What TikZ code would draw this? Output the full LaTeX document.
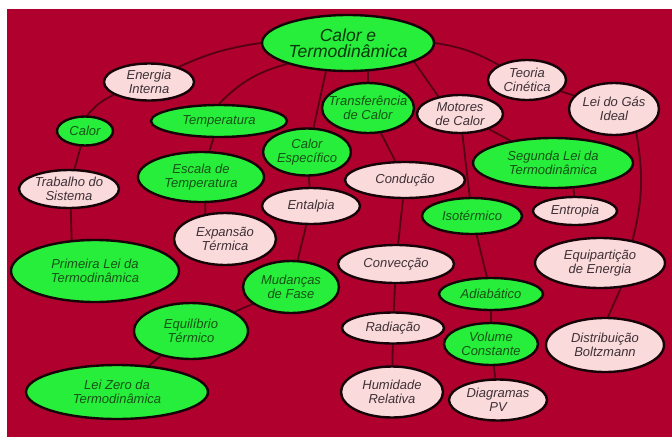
\documentclass[tikz,border=0pt]{standalone}
\usepackage{fontspec}
\setmainfont{Liberation Sans}
\usetikzlibrary{shapes.geometric,backgrounds}
\definecolor{bgred}{RGB}{176,0,46}
\definecolor{ngreen}{RGB}{38,238,58}
\definecolor{npink}{RGB}{250,218,218}
\definecolor{edgec}{RGB}{85,0,20}
\definecolor{gtext}{RGB}{22,82,22}
\definecolor{ptext}{RGB}{62,48,54}
\definecolor{border}{RGB}{22,4,8}
\tikzset{
  base/.style={ellipse, draw=border, line width=2.4pt, inner sep=0pt},
  gn/.style={base, fill=ngreen},
  pk/.style={base, fill=npink},
  gnt/.style={font=\itshape\fontsize{13}{13.5}\selectfont, align=center, text=gtext, inner sep=0pt},
  pkt/.style={font=\itshape\fontsize{13}{13.5}\selectfont, align=center, text=ptext, inner sep=0pt},
  ed/.style={draw=edgec, line width=1.8pt},
}
\newcommand\bub[6]{%
  \node[#1, minimum width=#4pt, minimum height=#5pt] (#2) at (#3) {};
  \node[#1t] (#2t) at (#2.center) {#6};}
\begin{document}
\begin{tikzpicture}[x=1pt,y=-1pt]
\useasboundingbox (0,0) rectangle (672,437);
% nodes
\node[gn, minimum width=172pt, minimum height=56pt] (top) at (348,43) {};
\node[font=\itshape\fontsize{17.5}{16.5}\selectfont, align=center, text={rgb,255:red,10;green,55;blue,10}, inner sep=0pt] (topt) at (top.center) {Calor e\\Termodinâmica};
\bub{pk}{ei}{149,82}{90}{37}{Energia\\Interna}
\bub{gn}{calor}{85,131}{56}{29}{Calor}
\bub{gn}{temp}{219,121}{136}{32}{Temperatura}
\bub{gn}{cesp}{307,152}{88}{47}{Calor\\Específico}
\bub{gn}{esc}{201,177}{126}{50}{Escala de\\Temperatura}
\bub{pk}{trab}{69,189}{100}{38}{Trabalho do\\Sistema}
\bub{pk}{ent}{311,206}{98}{36}{Entalpia}
\bub{pk}{expa}{225,239}{102}{52}{Expansão\\Térmica}
\bub{gn}{prim}{95,271}{168}{62}{Primeira Lei da\\Termodinâmica}
\bub{gn}{mud}{291,287}{96}{52}{Mudanças\\de Fase}
\bub{gn}{equ}{191,331}{114}{56}{Equilíbrio\\Térmico}
\bub{gn}{zero}{117,392}{182}{54}{Lei Zero da\\Termodinâmica}
\bub{gn}{transf}{368,108}{92}{50}{Transferência\\de Calor}
\bub{pk}{mot}{460,114}{86}{38}{Motores\\de Calor}
\bub{pk}{teo}{527,80}{78}{40}{Teoria\\Cinética}
\bub{pk}{gas}{614,109}{90}{52}{Lei do Gás\\Ideal}
\bub{gn}{seg}{553,163}{160}{50}{Segunda Lei da\\Termodinâmica}
\bub{pk}{cond}{405,180}{120}{36}{Condução}
\bub{pk}{entr}{575,211}{84}{28}{Entropia}
\bub{gn}{iso}{472,216}{100}{36}{Isotérmico}
\bub{pk}{conv}{396,264}{116}{38}{Convecção}
\bub{pk}{equi}{600,263}{130}{50}{Equipartição\\de Energia}
\bub{gn}{adia}{491,294}{104}{32}{Adiabático}
\bub{pk}{rad}{393,328}{102}{31}{Radiação}
\bub{gn}{vol}{491,344}{94}{42}{Volume\\Constante}
\bub{pk}{dist}{605,345}{118}{54}{Distribuição\\Boltzmann}
\bub{pk}{hum}{392,392}{102}{51}{Humidade\\Relativa}
\bub{pk}{diag}{498,400}{98}{41}{Diagramas\\PV}
\begin{pgfonlayer}{background}
\fill[bgred] (7,9) rectangle (672,437);
% connectors
\draw[ed] (top.180) to[bend right=8] (ei.27);
\draw[ed] (top.-161) to[bend right=15] (temp.90);
\draw[ed] (top.-128) -- (cesp.75);
\draw[ed] (top.-55) -- (transf.90);
\draw[ed] (top.-16) -- (mot.141);
\draw[ed] (top.0) to[bend left=10] (teo.152);
\draw[ed] (teo) -- (gas);
\draw[ed] (gas.-47) to[bend left=12] (equi.35);
\draw[ed] (equi.-50) -- (dist.84);
\draw[ed] (mot) -- (seg);
\draw[ed] (seg.-51) -- (entr.93);
\draw[ed] (mot) -- (iso);
\draw[ed] (iso) -- (adia);
\draw[ed] (adia) -- (vol);
\draw[ed] (vol) -- (diag);
\draw[ed] (transf) -- (cond);
\draw[ed] (cond) -- (conv);
\draw[ed] (conv) -- (rad);
\draw[ed] (rad) -- (hum);
\draw[ed] (temp) -- (esc);
\draw[ed] (cesp) -- (ent);
\draw[ed] (esc.-81) -- (expa.128);
\draw[ed] (ent) -- (mud);
\draw[ed] (mud) -- (equ);
\draw[ed] (equ) -- (zero);
\draw[ed] (ei.-160) to[bend right=12] (calor.82);
\draw[ed] (calor) -- (trab);
\draw[ed] (trab.-85) -- (prim.127);
\end{pgfonlayer}
\end{tikzpicture}
\end{document}
